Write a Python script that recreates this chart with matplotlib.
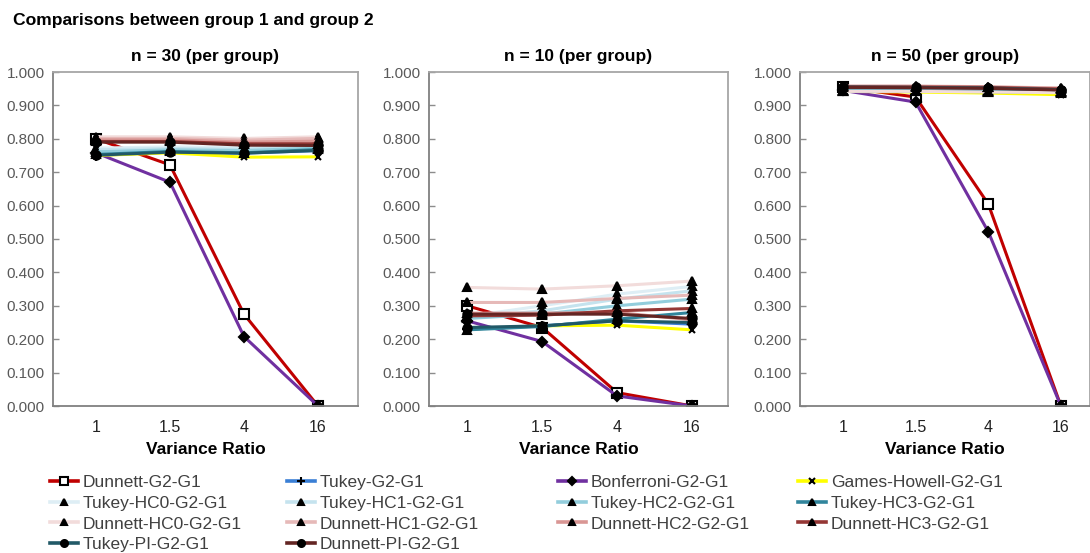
import matplotlib
matplotlib.use("Agg")
import matplotlib.pyplot as plt
from matplotlib.lines import Line2D

plt.rcParams['font.family'] = ['Liberation Sans', 'DejaVu Sans']

# variance ratios (categorical x axis)
ratios = ['1', '1.5', '4', '16']

methods = ['Dunnett-G2-G1', 'Tukey-G2-G1', 'Bonferroni-G2-G1', 'Games-Howell-G2-G1',
           'Tukey-HC0-G2-G1', 'Tukey-HC1-G2-G1', 'Tukey-HC2-G2-G1', 'Tukey-HC3-G2-G1',
           'Dunnett-HC0-G2-G1', 'Dunnett-HC1-G2-G1', 'Dunnett-HC2-G2-G1', 'Dunnett-HC3-G2-G1',
           'Tukey-PI-G2-G1', 'Dunnett-PI-G2-G1']

# n = 30 per group
n30 = [
    [0.800, 0.722, 0.275, 0.000],
    [0.750, 0.760, 0.757, 0.765],
    [0.758, 0.670, 0.208, 0.000],
    [0.750, 0.758, 0.745, 0.746],
    [0.772, 0.776, 0.773, 0.779],
    [0.767, 0.771, 0.769, 0.776],
    [0.761, 0.767, 0.765, 0.772],
    [0.753, 0.762, 0.758, 0.768],
    [0.806, 0.806, 0.801, 0.806],
    [0.801, 0.801, 0.796, 0.801],
    [0.797, 0.797, 0.790, 0.793],
    [0.792, 0.792, 0.785, 0.785],
    [0.751, 0.760, 0.757, 0.765],
    [0.790, 0.790, 0.781, 0.780],
]

# n = 10 per group
n10 = [
    [0.300, 0.235, 0.040, 0.000],
    [0.230, 0.240, 0.255, 0.245],
    [0.255, 0.193, 0.030, 0.000],
    [0.230, 0.240, 0.242, 0.228],
    [0.268, 0.300, 0.335, 0.358],
    [0.265, 0.285, 0.320, 0.345],
    [0.262, 0.275, 0.300, 0.320],
    [0.228, 0.238, 0.260, 0.280],
    [0.355, 0.350, 0.360, 0.374],
    [0.310, 0.310, 0.322, 0.332],
    [0.278, 0.278, 0.280, 0.258],
    [0.270, 0.272, 0.285, 0.292],
    [0.235, 0.240, 0.255, 0.250],
    [0.275, 0.275, 0.275, 0.262],
]

# n = 50 per group
n50 = [
    [0.955, 0.925, 0.605, 0.000],
    [0.942, 0.942, 0.940, 0.938],
    [0.945, 0.910, 0.522, 0.000],
    [0.942, 0.940, 0.937, 0.932],
    [0.946, 0.946, 0.945, 0.944],
    [0.945, 0.945, 0.944, 0.942],
    [0.944, 0.944, 0.943, 0.941],
    [0.943, 0.943, 0.941, 0.939],
    [0.942, 0.942, 0.940, 0.938],
    [0.958, 0.958, 0.956, 0.952],
    [0.957, 0.957, 0.955, 0.951],
    [0.956, 0.955, 0.954, 0.949],
    [0.955, 0.954, 0.952, 0.947],
    [0.954, 0.953, 0.951, 0.946],
]

colors = ['#c00000', '#3a7fd5', '#7030a0', '#ffff00',
          '#deeef5', '#c5e3ee', '#92cddc', '#31859c',
          '#f2dcdb', '#e6b9b8', '#d99694', '#953735',
          '#215967', '#632523']
markers = ['s', '+', 'D', 'x', '^', '^', '^', '^', '^', '^', '^', '^', 'o', 'o']
msizes = [7, 7, 5, 5, 6, 6, 6, 6, 6, 6, 6, 6, 6, 6]

W, H = 1090, 553
fig = plt.figure(figsize=(W / 100, H / 100), dpi=100)

panels = [
    ('n = 30 (per group)', n30, 53, 305, (-0.58, 3.54)),
    ('n = 10 (per group)', n10, 429, 299, (-0.51, 3.48)),
    ('n = 50 (per group)', n50, 800, 290, (-0.59, 3.40)),
]

x = list(range(len(ratios)))
for title, data, left, width, xlim in panels:
    ax = fig.add_axes([left / W, (H - 406) / H, width / W, 334 / H])
    for i, vals in enumerate(data):
        face = 'white' if markers[i] == 's' else 'black'
        ax.plot(x, vals, color=colors[i], lw=2.2, marker=markers[i],
                ms=msizes[i], mfc=face, mec='black', mew=1.5)
    ax.set_xlim(*xlim)
    ax.set_ylim(0, 1.0)
    ax.set_yticks([i / 10 for i in range(11)])
    ax.set_yticklabels(['{:.3f}'.format(i / 10) for i in range(11)])
    ax.set_xticks(x)
    ax.set_xticklabels(ratios)
    ax.tick_params(axis='y', direction='in', length=4, width=1, color='#8c8c8c',
                   labelsize=11, labelcolor='#595959', pad=6)
    ax.tick_params(axis='x', length=0, labelsize=11.5, labelcolor='#222222', pad=10)
    for side in ['left', 'bottom']:
        ax.spines[side].set_color('#808080')
        ax.spines[side].set_linewidth(1.3)
    for side in ['top', 'right']:
        ax.spines[side].set_color('#a6a6a6')
        ax.spines[side].set_linewidth(1.3)
    ax.set_title(title, fontsize=12.5, fontweight='bold', pad=8)
    ax.set_xlabel('Variance Ratio', fontsize=12.5, fontweight='bold', labelpad=5)

fig.text(13 / W, 1 - 20 / H, 'Comparisons between group 1 and group 2',
         fontsize=12.6, fontweight='bold', ha='left', va='center')

# legend laid out as four columns, filled row by row
handles = []
for i in range(len(methods)):
    face = 'white' if markers[i] == 's' else 'black'
    handles.append(Line2D([], [], color=colors[i], lw=2.6, marker=markers[i],
                          ms=msizes[i] - 1, mfc=face, mec='black', mew=1.5))
col_x = [50, 287, 558, 798]
for c in range(4):
    idx = list(range(c, len(methods), 4))
    fig.legend([handles[i] for i in idx], [methods[i] for i in idx],
               loc='upper left', bbox_to_anchor=(col_x[c] / W, 1 - 475 / H),
               frameon=False, fontsize=12.5, handlelength=1.6, handletextpad=0.3,
               labelspacing=0.32, borderaxespad=0, borderpad=0,
               labelcolor='#404040')

fig.savefig('out.png', dpi=100)
